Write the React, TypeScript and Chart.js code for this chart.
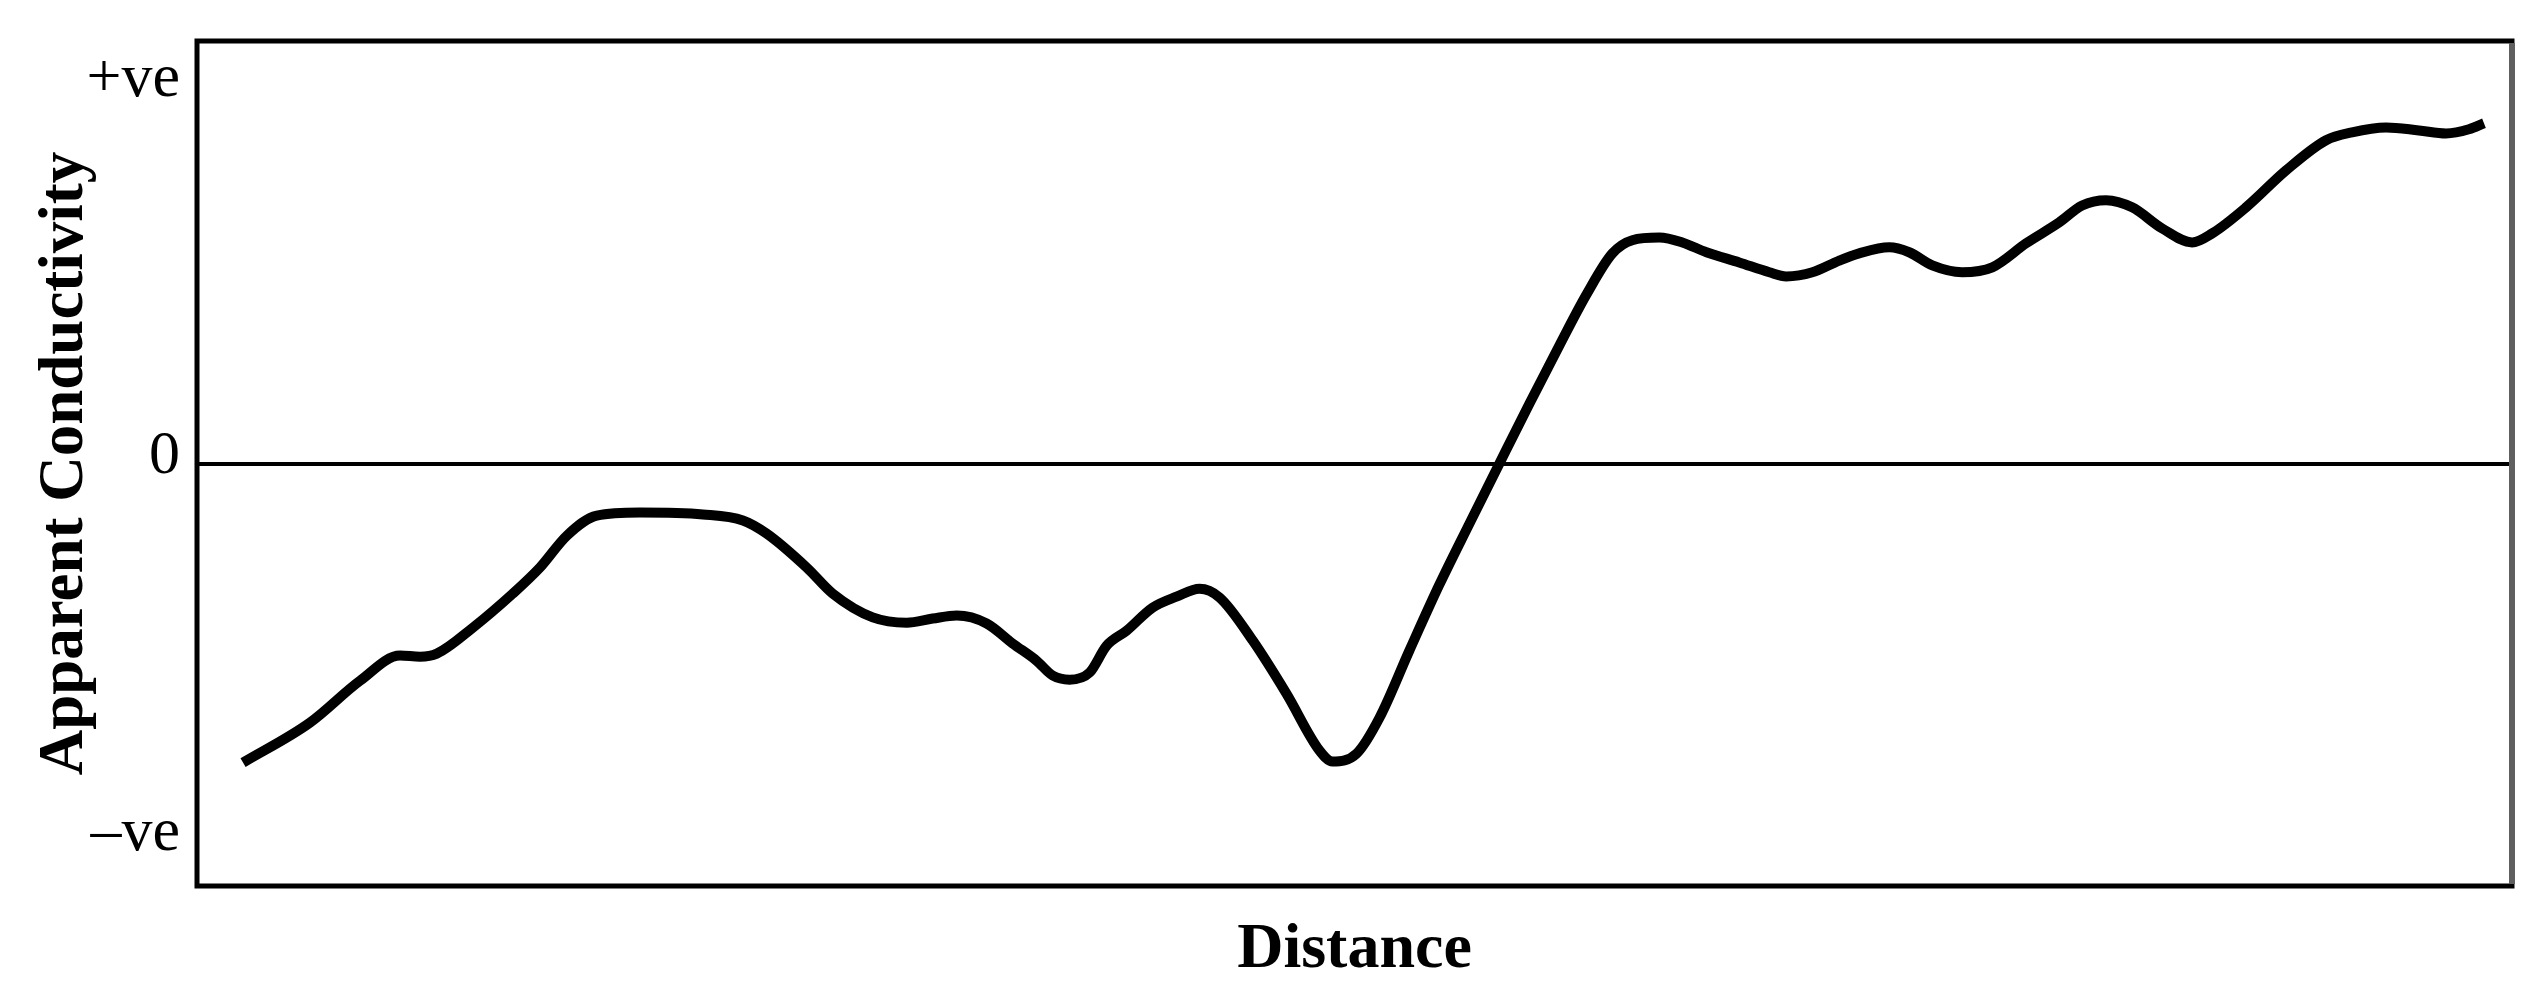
import React, { useEffect, useRef } from "react";
import { Chart, registerables } from "chart.js";

Chart.register(...registerables);

// Distance along the traverse (0–100 across the plot)
const distance = [
  1.99, 4.88, 7.04, 8.77, 9.63, 10.36, 11.92, 13.64, 14.81, 15.98, 17.27, 19.13,
  21.85, 23.58, 24.61, 26.34, 27.46, 29.19, 30.66, 31.78, 32.82, 34.11, 35.23,
  36.27, 36.96, 37.69, 38.56, 39.29, 40.16, 41.28, 42.31, 43.31, 44.17, 45.6,
  47.06, 48.49, 49.05, 50.09, 51.08, 52.37, 53.66, 54.96, 56.26, 57.56, 58.85,
  60.02, 61.14, 62.0, 63.17, 64.16, 65.2, 66.62, 67.92, 68.65, 69.78, 70.94,
  71.8, 73.1, 73.96, 74.96, 76.25, 77.55, 79.02, 80.44, 81.43, 82.47, 83.59,
  84.89, 86.18, 87.05, 88.51, 90.24, 91.97, 93.09, 94.56, 95.98, 97.15, 98.14,
  98.79,
];

// Apparent conductivity (relative; -1 = "–ve", +1 = "+ve")
const conductivity = [
  -0.793, -0.687, -0.576, -0.509, -0.512, -0.504, -0.435, -0.345, -0.276,
  -0.191, -0.138, -0.13, -0.135, -0.151, -0.186, -0.276, -0.345, -0.408,
  -0.422, -0.411, -0.403, -0.424, -0.477, -0.523, -0.562, -0.573, -0.554,
  -0.483, -0.443, -0.382, -0.353, -0.332, -0.355, -0.469, -0.61, -0.761,
  -0.79, -0.769, -0.674, -0.496, -0.322, -0.16, 0.0, 0.159, 0.313, 0.448,
  0.557, 0.592, 0.599, 0.586, 0.56, 0.533, 0.507, 0.496, 0.507, 0.538, 0.557,
  0.573, 0.56, 0.525, 0.507, 0.52, 0.584, 0.639, 0.684, 0.698, 0.679, 0.623,
  0.586, 0.61, 0.679, 0.777, 0.857, 0.878, 0.891, 0.883, 0.875, 0.886, 0.902,
];

const tickValues = [-1, 0, 1];
const tickLabels = ["–ve", "0", "+ve"];

const xTitle = "Distance";
const yTitle = "Apparent Conductivity";

const FONT = "'Liberation Serif', 'Times New Roman', serif";

const framePlugin = {
  id: "frame",
  afterDatasetsDraw(chart: any) {
    const { ctx, chartArea } = chart;
    const { left, right, top, bottom } = chartArea;
    ctx.save();
    ctx.lineCap = "square";
    ctx.strokeStyle = "#000";
    ctx.lineWidth = 5;
    ctx.beginPath();
    ctx.moveTo(right, top);
    ctx.lineTo(left, top);
    ctx.lineTo(left, bottom);
    ctx.lineTo(right, bottom);
    ctx.stroke();
    ctx.strokeStyle = "#5f5f5f";
    ctx.lineWidth = 6;
    ctx.lineCap = "butt";
    ctx.beginPath();
    ctx.moveTo(right, top + 2);
    ctx.lineTo(right, bottom - 2);
    ctx.stroke();
    ctx.restore();
  },
};

export default function App() {
  const canvasRef = useRef<HTMLCanvasElement | null>(null);

  useEffect(() => {
    if (!canvasRef.current) return;
    const chart = new Chart(canvasRef.current, {
      type: "line",
      data: {
        datasets: [
          {
            data: distance.map((x, i) => ({ x, y: conductivity[i] })),
            borderColor: "#000",
            borderWidth: 10,
            pointRadius: 0,
            cubicInterpolationMode: "monotone",
            fill: false,
          },
        ],
      },
      options: {
        animation: false,
        responsive: false,
        maintainAspectRatio: false,
        layout: { padding: { left: 0, top: 41, right: 35, bottom: 0 } },
        plugins: {
          legend: { display: false },
          tooltip: { enabled: false },
        },
        scales: {
          x: {
            type: "linear",
            min: 0,
            max: 100,
            grid: { display: false, drawTicks: false },
            border: { display: false },
            ticks: { display: false },
            afterFit(scale: any) {
              scale.height = 113;
              scale.paddingLeft = 0;
              scale.paddingRight = 0;
            },
            title: {
              display: true,
              text: xTitle,
              color: "#000",
              font: { family: FONT, size: 64, weight: "bold" },
              padding: { top: 0, bottom: 10 },
            },
          },
          y: {
            type: "linear",
            min: -1.12,
            max: 1.12,
            afterBuildTicks(scale: any) {
              scale.ticks = tickValues.map((v) => ({ value: v }));
            },
            afterFit(scale: any) {
              scale.width = 197;
              scale.paddingTop = 0;
              scale.paddingBottom = 0;
            },
            grid: {
              drawTicks: false,
              color: (c: any) => (c.tick && c.tick.value === 0 ? "#000" : "rgba(0,0,0,0)"),
              lineWidth: (c: any) => (c.tick && c.tick.value === 0 ? 4 : 0),
            },
            border: { display: false },
            ticks: {
              padding: 17,
              labelOffset: -7,
              color: "#000",
              font: { family: FONT, size: 62 },
              callback: (v: any) => {
                const i = tickValues.indexOf(Number(v));
                return i >= 0 ? tickLabels[i] : "";
              },
            },
            title: {
              display: true,
              text: yTitle,
              color: "#000",
              font: { family: FONT, size: 63, weight: "bold" },
              padding: { top: 28, bottom: 0 },
            },
          },
        },
      },
      plugins: [framePlugin],
    });
    return () => chart.destroy();
  }, []);

  return (
    <div style={{ position: "fixed", left: 0, top: 0, width: 2547, height: 999, background: "#fff" }}>
      <canvas ref={canvasRef} width={2547} height={999} style={{ width: 2547, height: 999, display: "block" }} />
    </div>
  );
}
